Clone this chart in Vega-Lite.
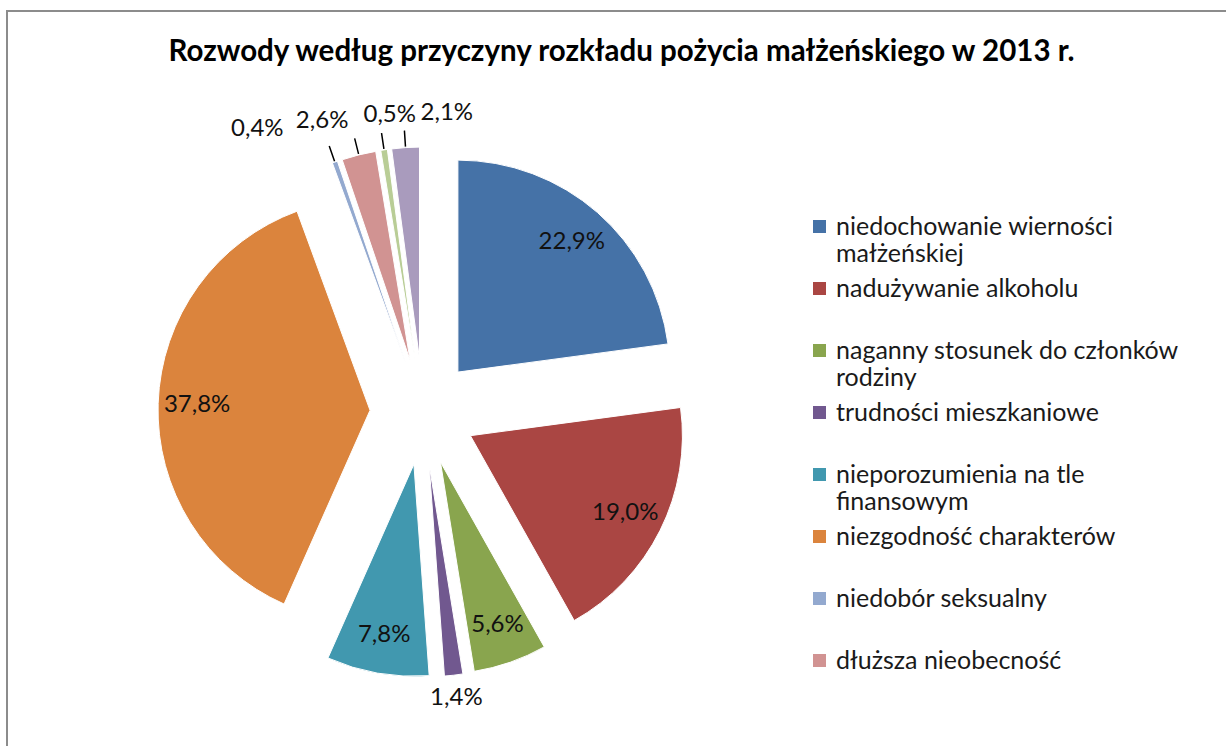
{
  "$schema": "https://vega.github.io/schema/vega-lite/v6.json",
  "width": 1219,
  "height": 735,
  "autosize": {"type": "none"},
  "padding": {"left": 7, "top": 11, "right": 0, "bottom": 0},
  "background": "white",
  "view": {"stroke": "#8c8c8c", "strokeWidth": 2, "strokeDash": [1219, 1954, 735, 10]},
  "config": {
    "font": "Lato",
    "locale": {"number": {"decimal": ",", "thousands": " ", "grouping": [3], "currency": ["", " zł"]}}
  },
  "title": {
    "text": "Rozwody według przyczyny rozkładu pożycia małżeńskiego w 2013 r.",
    "font": "Lato",
    "fontSize": 29.5,
    "fontWeight": "bold",
    "color": "#000000",
    "anchor": "middle",
    "offset": -56,
    "dx": 5
  },
  "data": {
    "values": [
      {"nr": 1, "przyczyna": "niedochowanie wierności małżeńskiej", "udzial": 0.229},
      {"nr": 2, "przyczyna": "nadużywanie alkoholu", "udzial": 0.190},
      {"nr": 3, "przyczyna": "naganny stosunek do członków rodziny", "udzial": 0.056},
      {"nr": 4, "przyczyna": "trudności mieszkaniowe", "udzial": 0.014},
      {"nr": 5, "przyczyna": "nieporozumienia na tle finansowym", "udzial": 0.078},
      {"nr": 6, "przyczyna": "niezgodność charakterów", "udzial": 0.378},
      {"nr": 7, "przyczyna": "niedobór seksualny", "udzial": 0.004},
      {"nr": 8, "przyczyna": "dłuższa nieobecność", "udzial": 0.026},
      {"nr": 9, "przyczyna": "różnice światopoglądowe", "udzial": 0.005},
      {"nr": 10, "przyczyna": "inne", "udzial": 0.021}
    ]
  },
  "encoding": {
    "theta": {"field": "udzial", "type": "quantitative", "stack": true},
    "order": {"field": "nr", "type": "quantitative"}
  },
  "layer": [
    {
      "mark": {
        "type": "arc",
        "stroke": "#ffffff",
        "strokeWidth": 1,
        "xOffset": {"expr": "-193.5 + 53*sin(scale('theta', (datum.udzial_start + datum.udzial_end)/2))"},
        "yOffset": {"expr": "33.5 - 53*cos(scale('theta', (datum.udzial_start + datum.udzial_end)/2))"}
      },
      "encoding": {
        "radius": {"value": 212},
        "color": {
          "field": "przyczyna",
          "type": "nominal",
          "sort": null,
          "scale": {
            "domain": [
              "niedochowanie wierności małżeńskiej",
              "nadużywanie alkoholu",
              "naganny stosunek do członków rodziny",
              "trudności mieszkaniowe",
              "nieporozumienia na tle finansowym",
              "niezgodność charakterów",
              "niedobór seksualny",
              "dłuższa nieobecność",
              "różnice światopoglądowe",
              "inne"
            ],
            "range": ["#4572A7", "#AA4643", "#89A54E", "#71588F", "#4198AF", "#DB843D", "#93A9CF", "#D19392", "#B9CD96", "#A99BBD"]
          },
          "legend": {
            "orient": "none",
            "legendX": 800,
            "legendY": 203,
            "title": null,
            "padding": 0,
            "values": [
              "niedochowanie wierności małżeńskiej",
              "nadużywanie alkoholu",
              "naganny stosunek do członków rodziny",
              "trudności mieszkaniowe",
              "nieporozumienia na tle finansowym",
              "niezgodność charakterów",
              "niedobór seksualny",
              "dłuższa nieobecność"
            ],
            "symbolType": "square",
            "symbolSize": 169,
            "symbolStrokeWidth": 0,
            "labelFont": "Lato",
            "labelFontSize": 25,
            "labelColor": "#1a1a1a",
            "labelLimit": 400,
            "labelOffset": 4,
            "labelBaseline": "middle",
            "rowPadding": 9,
            "labelExpr": "datum.label == 'niedochowanie wierności małżeńskiej' ? ['niedochowanie wierności', 'małżeńskiej'] : datum.label == 'naganny stosunek do członków rodziny' ? ['naganny stosunek do członków', 'rodziny'] : datum.label == 'nieporozumienia na tle finansowym' ? ['nieporozumienia na tle', 'finansowym'] : [datum.label, '\u00a0']"
          }
        }
      }
    },
    {
      "mark": {
        "type": "arc",
        "padAngle": 1,
        "fillOpacity": 0,
        "stroke": "#000000",
        "strokeWidth": 1.5,
        "xOffset": -193.5,
        "yOffset": 33.5
      },
      "encoding": {
        "radius": {"value": 282},
        "radius2": {"value": 266},
        "strokeOpacity": {"condition": {"test": "datum.nr >= 7", "value": 1}, "value": 0}
      }
    },
    {
      "mark": {
        "type": "text",
        "font": "Lato",
        "fontSize": 24,
        "color": "#111111",
        "align": "center",
        "baseline": "middle",
        "xOffset": -193.5,
        "yOffset": 33.5,
        "radius": {"expr": "datum.nr >= 7 ? 300 : datum.nr == 4 ? 288 : 226"},
        "dx": {"expr": "datum.nr >= 7 ? 7*(scale('theta', (datum.udzial_start + datum.udzial_end)/2)*180/PI - 350) : 0"}
      },
      "encoding": {
        "text": {"field": "udzial", "type": "quantitative", "format": ".1%"}
      }
    }
  ]
}
